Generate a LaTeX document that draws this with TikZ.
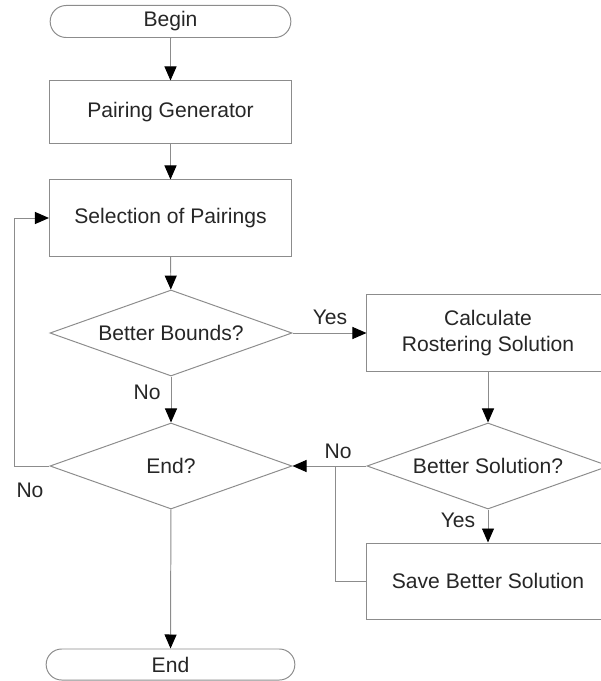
\documentclass[tikz,border=0pt]{standalone}
\usepackage{fontspec}
\setmainfont{Liberation Sans}
\usetikzlibrary{shapes.geometric,shapes.misc,arrows.meta}

\begin{document}
\begin{tikzpicture}[x=0.025cm,y=-0.025cm,
				every node/.style={text=black!85, font=\fontsize{15}{18}\selectfont},
				terminal/.style={rounded rectangle, draw=black!45, line width=0.7pt, minimum height=0.8cm},
				process/.style = {rectangle, draw=black!45, line width=0.7pt, minimum width=6.05cm, align=center},
				decision/.style={diamond, draw=black!45, line width=0.7pt, aspect=2.8, inner sep=0pt, minimum width=6.05cm, minimum height=2.15cm},
				flow/.style={draw=black!45, line width=0.7pt, -{Triangle[length=0.35cm, width=0.3cm, color=black]}},
				link/.style={draw=black!45, line width=0.7pt}]
	\useasboundingbox (0,0) rectangle (600,681);
	\node[terminal, minimum width=6.25cm] (B) at (170.5,21.5) {Begin};
	\node[process, minimum height=1.55cm] (PG) at (170.5,112) {Pairing Generator};
	\node[process, minimum height=1.9cm] (SP) at (170.5,218) {Selection of Pairings};
	\node[decision] (BB) at (171,333) {Better Bounds?};
	\node[process, minimum height=1.9cm] (CR) at (488,333) {Calculate\\Rostering Solution};
	\node[decision] (BS) at (488,466) {Better Solution?};
	\node[process, minimum height=1.9cm] (SB) at (488,581) {Save Better Solution};
	\node[decision] (EQ) at (171,466) {End?};
	\node[terminal, minimum width=6.45cm, minimum height=0.775cm] (E) at (170.5,664.5) {End};
	\coordinate (J) at (335,466);
	\coordinate (L) at (14,466);
	\draw[flow] (B) -- (PG);
	\draw[flow] (PG) -- (SP);
	\draw[flow] (SP) -- (BB);
	\draw[flow] (BB) -- (CR);
	\draw[flow] (CR) -- (BS);
	\draw[flow] (BS) -- (SB);
	\draw[flow] (BS) -- (EQ);
	\draw[link] (SB.west) -| (J);
	\draw[flow] (BB) -- (EQ);
	\draw[flow] (EQ.west) -- (L) |- (SP.west);
	\draw[flow] (EQ) -- (E);
	\node (Y1) at (330,317) {Yes};
	\node (N1) at (147,392) {No};
	\node (N2) at (30,490) {No};
	\node (N3) at (338,451) {No};
	\node (Y2) at (458,520) {Yes};
\end{tikzpicture}
\end{document}
